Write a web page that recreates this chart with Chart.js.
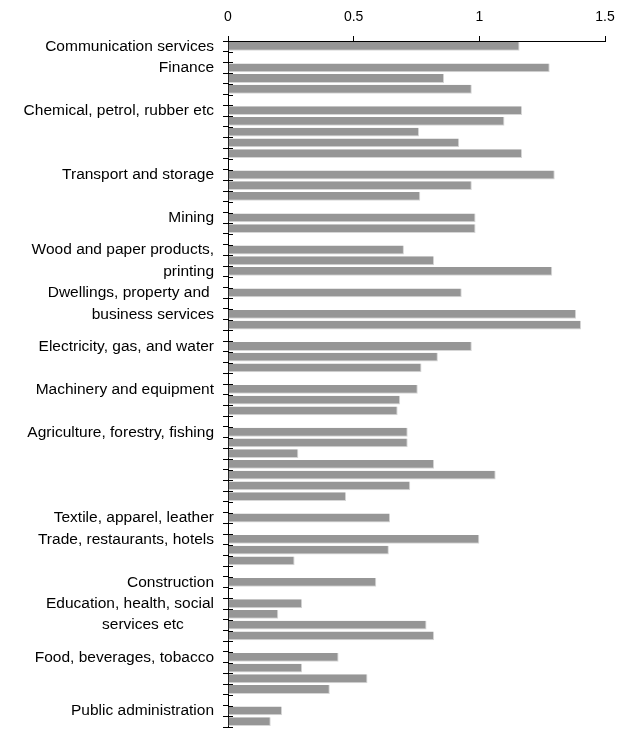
<!DOCTYPE html>
<html>
<head>
<meta charset="utf-8">
<script src="https://cdn.jsdelivr.net/npm/chart.js@4"></script>
<style>
  html, body { margin: 0; padding: 0; background: #fff; }
  #wrap { position: relative; width: 634px; height: 734px; }
</style>
</head>
<body>
<div id="wrap"><canvas id="chart"></canvas></div>
<script>
/* Sector rows, top to bottom. Empty strings are unlabelled rows. */
const ROW_LABELS = [
  'Communication services', '',
  'Finance', '', '', '',
  'Chemical, petrol, rubber etc', '', '', '', '', '',
  'Transport and storage', '', '', '',
  'Mining', '', '',
  'Wood and paper products,', '', 'printing', '',
  'Dwellings, property and ', '', 'business services', '', '',
  'Electricity, gas, and water', '', '', '',
  'Machinery and equipment', '', '', '',
  'Agriculture, forestry, fishing', '', '', '', '', '', '', '',
  'Textile, apparel, leather', '',
  'Trade, restaurants, hotels', '', '', '',
  'Construction', '',
  'Education, health, social', '', 'services etc       ', '', '',
  'Food, beverages, tobacco', '', '', '', '',
  'Public administration', ''
];

// null = gap row between sectors
const ROW_VALUES = [
  1.16, null,
  1.28, 0.86, 0.97, null,
  1.17, 1.10, 0.76, 0.92, 1.17, null,
  1.30, 0.97, 0.765, null,
  0.985, 0.985, null,
  0.70, 0.82, 1.29, null,
  0.93, null, 1.385, 1.405, null,
  0.97, 0.835, 0.77, null,
  0.755, 0.685, 0.675, null,
  0.715, 0.715, 0.28, 0.82, 1.065, 0.725, 0.47, null,
  0.645, null,
  1.0, 0.64, 0.265, null,
  0.59, null,
  0.295, 0.20, 0.79, 0.82, null,
  0.44, 0.295, 0.555, 0.405, null,
  0.215, 0.17
];

const X_MIN = 0;
const X_MAX = 1.5;
const X_STEP = 0.5;

const FONT = "'Liberation Sans', Arial, sans-serif";

// inner half of the crossing tick marks on the category axis
const crossTicks = {
  id: 'crossTicks',
  afterDraw(chart) {
    const ys = chart.scales.y;
    const ctx = chart.ctx;
    const x0 = chart.chartArea.left;
    ctx.save();
    ctx.strokeStyle = '#000';
    ctx.lineWidth = 1;
    ctx.beginPath();
    for (let i = 0; i <= ROW_LABELS.length; i++) {
      const y = Math.round(ys.getPixelForValue(i - 0.5)) + 0.5;
      ctx.moveTo(x0, y);
      ctx.lineTo(x0 + 5, y);
    }
    ctx.stroke();
    ctx.restore();
  }
};

new Chart(document.getElementById('chart'), {
  type: 'bar',
  data: {
    labels: ROW_LABELS,
    datasets: [{
      data: ROW_VALUES,
      backgroundColor: '#969696',
      borderColor: '#d6d6d6',
      borderWidth: { top: 0, left: 0, right: 1, bottom: 1 },
      borderSkipped: false,
      barPercentage: 0.82,
      categoryPercentage: 1
    }]
  },
  options: {
    indexAxis: 'y',
    responsive: true,
    maintainAspectRatio: false,
    animation: false,
    layout: { padding: { top: 0, right: 29, bottom: 7, left: 0 } },
    plugins: {
      legend: { display: false },
      tooltip: { enabled: false }
    },
    scales: {
      x: {
        type: 'linear',
        position: 'top',
        min: X_MIN,
        max: X_MAX,
        afterFit: (s) => { s.height = 41; s.paddingLeft = 0; s.paddingRight = 0; },
        ticks: {
          stepSize: X_STEP,
          color: '#000',
          padding: 10,
          font: { family: FONT, size: 14 },
          callback: (v) => String(v)
        },
        grid: { drawOnChartArea: false, tickLength: 5, color: '#000' },
        border: { color: '#000', width: 1 }
      },
      y: {
        type: 'category',
        afterFit: (s) => { s.width = 228; s.paddingTop = 0; s.paddingBottom = 0; },
        ticks: {
          autoSkip: false,
          color: '#000',
          padding: 9,
          font: { family: FONT, size: 15.5 }
        },
        grid: { drawOnChartArea: false, offset: true, tickLength: 5, color: '#000' },
        border: { color: '#000', width: 1 }
      }
    }
  },
  plugins: [crossTicks]
});
</script>
</body>
</html>
